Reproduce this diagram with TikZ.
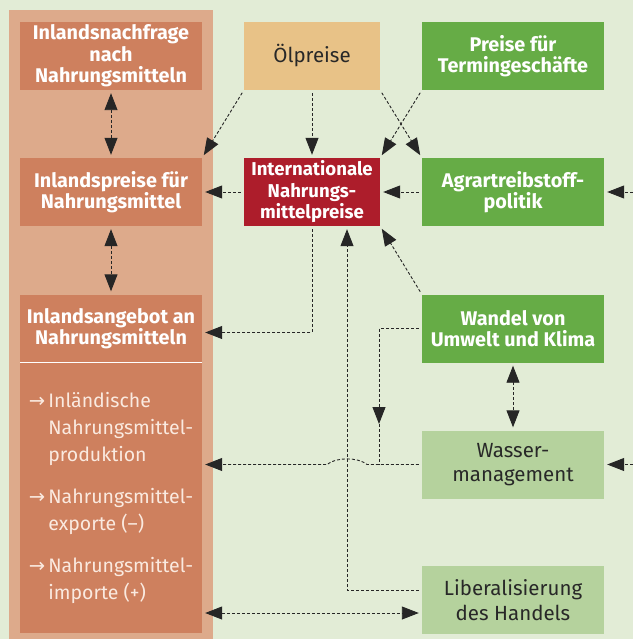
\documentclass[tikz,border=0pt]{standalone}
\usepackage{fontspec}
\setmainfont{Fira Sans}
\newfontfamily\pfeilfont{DejaVu Sans}
\usetikzlibrary{arrows.meta}
\definecolor{grund}{RGB}{226,236,214}
\definecolor{lachs1}{RGB}{221,170,139}
\definecolor{lachs2}{RGB}{206,128,94}
\definecolor{lachs3}{RGB}{250,234,224}
\definecolor{oel}{RGB}{232,194,135}
\definecolor{gruen1}{RGB}{102,172,70}
\definecolor{gruen2}{RGB}{181,210,157}
\definecolor{rot1}{RGB}{173,29,43}
\definecolor{schrift}{RGB}{40,40,40}
\tikzset{
  kasten/.style={minimum width=182pt, minimum height=68pt, inner sep=0pt, align=center,
    font=\fontsize{19.8}{21.5}\selectfont\bfseries, text=white},
  schmal/.style={kasten, minimum width=136pt},
  hell/.style={font=\fontsize{20.5}{24.5}\selectfont, text=schrift},
  link/.style={dash pattern=on 3pt off 2pt, line width=0.9pt, draw=black!85, ->,
    shorten >=3pt, shorten <=3pt}
}

\begin{document}
\begin{tikzpicture}[x=1pt, y=-1pt, >={Triangle[length=17pt,width=13pt]}]
\useasboundingbox (0,0) rectangle (633,639);
\fill[grund] (0,0) rectangle (633,639);
\fill[lachs1] (9,10) rectangle (213,639);

\node[kasten, fill=lachs2] (nachfrage) at (111,56) {Inlandsnachfrage\\nach\\Nahrungsmitteln};
\node[kasten, fill=lachs2] (inlpreise) at (111,192) {Inlandspreise für\\Nahrungsmittel};
\node[kasten, fill=lachs2] (angebot) at (111,328.5) {Inlandsangebot an\\Nahrungsmitteln};
\node[kasten, fill=lachs2, minimum height=270pt, font=\fontsize{19.5}{27}\selectfont, text=lachs3] (liste) at (111,498) {%
  \begin{tabular}{@{}l@{\,}l@{}}
  {\pfeilfont →} & Inländische\\
   & Nahrungsmittel-\\
   & produktion\\[15pt]
  {\pfeilfont →} & Nahrungsmittel-\\
   & exporte (–)\\[15pt]
  {\pfeilfont →} & Nahrungsmittel-\\
   & importe (+)
  \end{tabular}};
\draw[white, line width=1.5pt] (angebot.south west) -- (angebot.south east);

\node[schmal, fill=oel, hell] (oel) at (312,56) {Ölpreise};
\node[kasten, fill=gruen1] (termin) at (513,56) {Preise für\\Termingeschäfte};
\node[schmal, fill=rot1, font=\fontsize{18.6}{21.5}\selectfont\bfseries] (intl) at (312,192) {Internationale\\Nahrungs-\\mittelpreise};
\node[kasten, fill=gruen1] (agrar) at (513,192) {Agrartreibstoff-\\politik};
\node[kasten, fill=gruen1] (wandel) at (513,328.5) {Wandel von\\Umwelt und Klima};
\node[kasten, fill=gruen2, hell] (wasser) at (513,464.5) {Wasser-\\management};
\node[kasten, fill=gruen2, hell] (liber) at (513,600) {Liberalisierung\\des Handels};

\coordinate (rand1) at (633,192);
\coordinate (rand2) at (633,464.5);
\coordinate (knick) at (379,424);
\coordinate (lib1) at ([yshift=10pt]liber.west);
\coordinate (lib2) at ([yshift=-13pt]liber.west);

\draw[link, <->] (nachfrage) -- (inlpreise);
\draw[link, <->] (inlpreise) -- (angebot);
\draw[link] (oel.south west) -- (inlpreise.north east);
\draw[link] (oel) -- (intl);
\draw[link] (oel.south east) -- (agrar.north west);
\draw[link] (termin.south west) -- (intl.north east);
\draw[link] (intl) -- (inlpreise);
\draw[link] (agrar) -- (intl);
\draw[link, shorten <=0pt] (rand1) -- (agrar);
\draw[link] (intl.south) |- ([yshift=-4pt]angebot.east);
\draw[link] (wandel.north west) -- (intl.south east);
\draw[link, shorten >=0pt] (wandel.west) -| (knick);
\draw[link, -, shorten <=0pt, shorten >=0pt] (knick) -- (knick |- wasser.west);
\draw[link, <->] (wandel) -- (wasser);
\draw[link] (wasser.west) -- (367,464.5) .. controls (358,457) and (336,457) .. (327,464.5) -- (wasser.west -| liste.east);
\draw[link, shorten <=0pt] (rand2) -- (wasser);
\draw[link] (lib1) -| ([xshift=35pt]intl.south);
\draw[link, <->] (lib2 -| liste.east) -- (lib2);
\end{tikzpicture}
\end{document}
